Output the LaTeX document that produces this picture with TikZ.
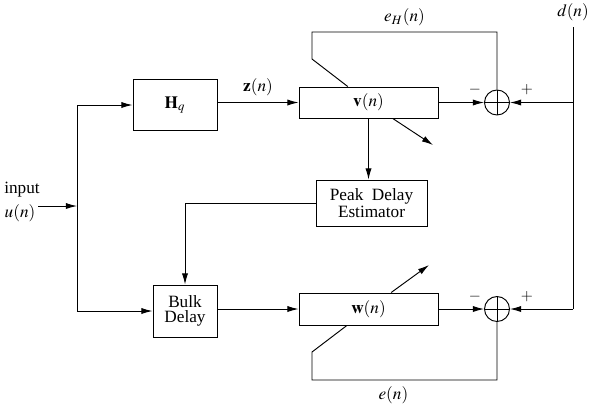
\documentclass[tikz,border=0pt]{standalone}
\usepackage{mathptmx}
\usepackage{fontspec}
\setmainfont{Liberation Serif}
\usetikzlibrary{calc,arrows.meta,positioning}

\begin{document}
\begin{tikzpicture}[x=0.0204cm,y=-0.0204cm,line width=0.55pt,
  box/.style={draw,align=center,inner sep=1pt,font=\fontsize{10pt}{8.7pt}\selectfont},
  sumnode/.style={draw,circle,minimum size=0.51cm,inner sep=0pt,
    path picture={\draw (path picture bounding box.north) -- (path picture bounding box.south)
      (path picture bounding box.west) -- (path picture bounding box.east);}},
  sig/.style={-{Latex[length=6.5pt,width=3.6pt]}},
  sign/.style={font=\small,inner sep=0pt}]
  \useasboundingbox (0,0) rectangle (600,406);
  \node[box,minimum width=1.714cm,minimum height=1.04cm] (hq) at (175,105) {$\mathbf{H}_q$};
  \node[box,minimum width=2.836cm,minimum height=0.632cm] (v) at (368.5,102.5) {$\mathbf{v}(n)$};
  \node[box,minimum width=2.264cm,minimum height=0.938cm] (ped) at (371.5,203) {Peak\ \ Delay\\Estimator};
  \node[box,minimum width=1.306cm,minimum height=1.061cm] (bulk) at (185,311) {Bulk\\Delay};
  \node[box,minimum width=2.836cm,minimum height=0.653cm] (w) at (368.5,309) {$\mathbf{w}(n)$};
  \node[sumnode] (s1) at (497,102.5) {};
  \node[sumnode] (s2) at (497,309) {};
  \node (inp) at (22,190) {input};
  \node (un) at (20,213) {$u(n)$};
  \coordinate (uin) at (38,206);
  \coordinate (split) at (77,206);
  \coordinate (dtop) at (573,27);
  \coordinate (dbot) at (573,309);
  \coordinate (ehc) at (312,32);
  \coordinate (ehk) at (312,59);
  \coordinate (ec) at (312,380);
  \coordinate (ek) at (312,352);
  \coordinate (vadj) at (433,145);
  \coordinate (wadj) at (429,265);
  \draw[sig] (uin) -- (split);
  \draw[sig] (split) |- (hq.west);
  \draw[sig] (split) |- (bulk.west);
  \draw[sig] (hq.east |- v) -- node[above] {$\mathbf{z}(n)$} (v.west);
  \draw[sig] (v.east) -- (s1.west);
  \draw[sig] (v.south) -- (v.south |- ped.north);
  \draw[sig] (ped.west) -| (bulk.north);
  \draw[sig] (bulk.east |- w) -- (w.west);
  \draw[sig] (w.east) -- (s2.west);
  \node[above] (dn) at (dtop) {$d(n)$};
  \draw (dtop) -- (dbot);
  \draw[sig] (dtop |- s1) -- (s1.east);
  \draw[sig] (dbot) -- (s2.east);
  \draw (s1.north) |- node[pos=0.75,above] {$e_H(n)$} (ehc) -- (ehk) -- (v);
  \draw (s2.south) |- node[pos=0.78,below] {$e(n)$} (ec) -- (ek) -- (w);
  \draw[sig] (v) -- (vadj);
  \draw[sig] (w) -- (wadj);
  \node[sign] (m1) at ($(s1)+(-22,-13)$) {$-$};
  \node[sign] (p1) at ($(s1)+(30,-13)$) {$+$};
  \node[sign] (m2) at ($(s2)+(-22,-12)$) {$-$};
  \node[sign] (p2) at ($(s2)+(30,-12)$) {$+$};
\end{tikzpicture}
\end{document}
